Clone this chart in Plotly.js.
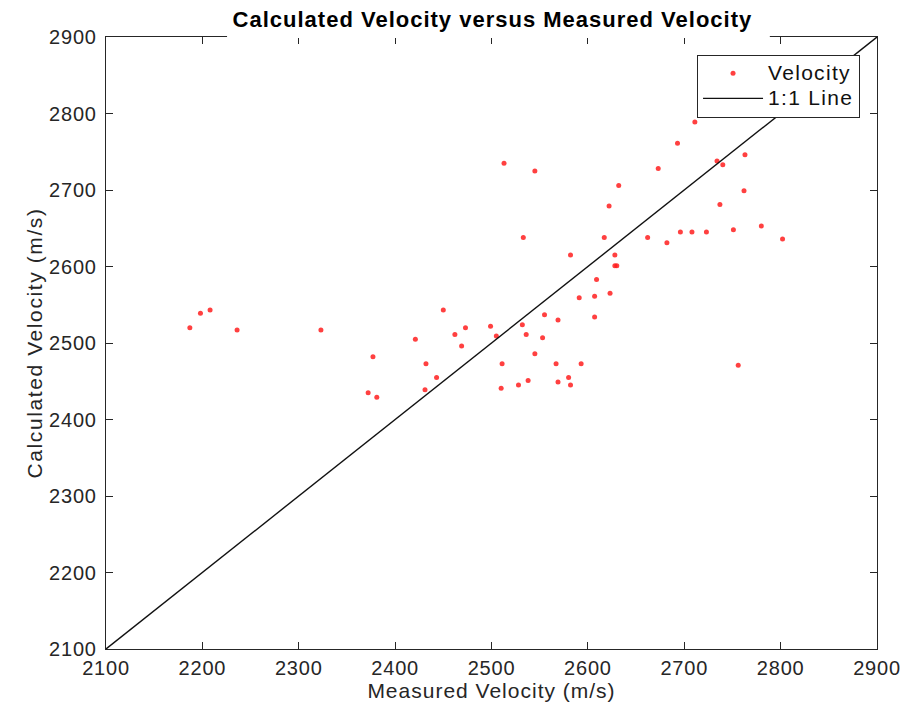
<!DOCTYPE html>
<html>
<head>
<meta charset="utf-8">
<script src="https://cdn.plot.ly/plotly-3.0.1.min.js"></script>
<style>
  html, body { margin: 0; padding: 0; background: #fff; }
  #chart { width: 917px; height: 705px; }
  /* slightly airy lettering for all chart text */
  #chart text.gtitle { letter-spacing: 1px; }
  #chart text.xtitle { letter-spacing: 1px; }
  #chart text.ytitle { letter-spacing: 1.6px; }
  #chart g.xtick text, #chart g.ytick text { letter-spacing: 0.8px; }
  /* unscoped so the legend's width measurement sees it too;
     larger glyphs than the row pitch the legend font gives */
  text.legendtext { letter-spacing: 1.3px; font-size: 21px !important; }
</style>
</head>
<body>
<div id="chart"></div>
<script>
// Measured vs. calculated velocity (m/s)
const measured = [2187, 2198, 2208, 2236, 2323, 2372, 2377, 2381, 2421, 2431, 2432, 2443, 2450,
  2462, 2469, 2473, 2499, 2505, 2510, 2511, 2513, 2528, 2532, 2533, 2536, 2538, 2545, 2545, 2553,
  2555, 2567, 2569, 2569, 2580, 2582, 2582, 2591, 2593, 2607, 2607, 2609, 2617, 2622, 2623, 2628,
  2628, 2630, 2632, 2662, 2673, 2682, 2693, 2696, 2708, 2711, 2723, 2734, 2737, 2740, 2751, 2756,
  2762, 2763, 2780, 2802];
const calculated = [2520, 2539, 2543, 2517, 2517, 2435, 2482, 2429, 2505, 2439, 2473, 2455, 2543,
  2511, 2496, 2520, 2522, 2509, 2441, 2473, 2735, 2445, 2524, 2638, 2511, 2451, 2725, 2486, 2507,
  2537, 2473, 2530, 2449, 2455, 2445, 2615, 2559, 2473, 2561, 2534, 2583, 2638, 2679, 2565, 2615,
  2601, 2601, 2706, 2638, 2728, 2631, 2761, 2645, 2645, 2789, 2645, 2738, 2681, 2733, 2648, 2471,
  2699, 2746, 2653, 2636];

// Reference line endpoints (y = x)
const lineX = [2100, 2900];
const lineY = [2100, 2900];

const tickVals = [2100, 2200, 2300, 2400, 2500, 2600, 2700, 2800, 2900];

const FONT = 'Liberation Sans, Arial, Helvetica, sans-serif';
const INK = '#262626';

const traces = [
  {
    x: measured, y: calculated,
    type: 'scatter', mode: 'markers', name: 'Velocity',
    marker: { color: 'rgb(255,30,30)', size: 5, opacity: 0.85 }
  },
  {
    x: lineX, y: lineY,
    type: 'scatter', mode: 'lines', name: '1:1 Line',
    line: { color: '#111', width: 1.4 }
  }
];

const axisCommon = {
  range: [2100, 2900],
  tickvals: tickVals,
  ticktext: tickVals.map(String),
  ticks: 'inside', ticklen: 7, tickwidth: 1, tickcolor: INK,
  showline: true, linecolor: INK, linewidth: 1.2, mirror: 'ticks',
  showgrid: false, zeroline: false,
  tickfont: { family: FONT, size: 20, color: INK },
  fixedrange: true
};

const layout = {
  width: 917, height: 705,
  margin: { l: 106, r: 40, t: 37, b: 56 },
  paper_bgcolor: '#fff', plot_bgcolor: '#fff',
  title: {
    text: '<b>Calculated Velocity versus Measured Velocity</b>',
    font: { family: FONT, size: 22, color: '#000' },
    x: 0.537, xanchor: 'center', y: 0.973, yanchor: 'middle'
  },
  xaxis: Object.assign({}, axisCommon, {
    ticklabelstandoff: 1,
    title: { text: 'Measured Velocity (m/s)', font: { family: FONT, size: 21, color: INK }, standoff: 2 }
  }),
  yaxis: Object.assign({}, axisCommon, {
    ticklabelstandoff: 4,
    title: { text: '\u00a0\u00a0\u00a0Calculated Velocity (m/s)', font: { family: FONT, size: 21, color: INK }, standoff: 4 }
  }),
  showlegend: true,
  legend: {
    x: 0.978, xanchor: 'right', y: 0.971, yanchor: 'top',
    bgcolor: '#fff', bordercolor: INK, borderwidth: 1,
    font: { family: FONT, size: 17, color: '#111' },
    itemwidth: 60,
    tracegroupgap: 0
  },
  shapes: [
    // white band behind the title, interrupting the top frame line
    {
      type: 'rect', xref: 'paper', yref: 'paper', layer: 'above',
      x0: 0.157, x1: 0.861, y0: 0.9985, y1: 1.04,
      fillcolor: '#fff', line: { width: 0 }
    }
  ]
};

Plotly.newPlot('chart', traces, layout, { staticPlot: true, displayModeBar: false });
</script>
</body>
</html>
